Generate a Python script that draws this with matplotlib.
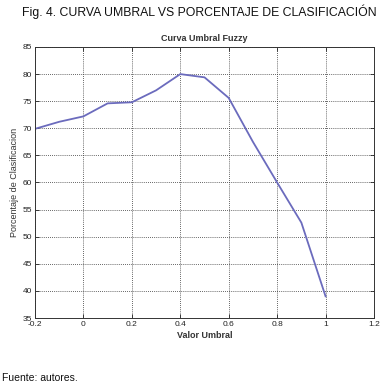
import matplotlib
matplotlib.use("Agg")
import matplotlib.pyplot as plt

plt.rcParams['font.family'] = ['Liberation Sans', 'DejaVu Sans']

umbral = [-0.2, -0.1, 0.0, 0.1, 0.2, 0.3, 0.4, 0.5, 0.6, 0.7, 0.8, 0.9, 1.0]
porcentaje = [69.9, 71.2, 72.2, 74.6, 74.8, 77.0, 80.0, 79.4, 75.6, 67.5, 60.0, 52.6, 39.0]
xticks = [-0.2, 0, 0.2, 0.4, 0.6, 0.8, 1, 1.2]
xticklabels = ['-0.2', '0', '0.2', '0.4', '0.6', '0.8', '1', '1.2']
yticks = [35, 40, 45, 50, 55, 60, 65, 70, 75, 80, 85]

fig = plt.figure(figsize=(3.81, 3.88), dpi=100)
ax = fig.add_axes([0.0919, 0.1804, 0.8897, 0.6985])
ax.plot(umbral, porcentaje, color='#6b6bbd', lw=1.3)
ax.set_xlim(-0.2, 1.2)
ax.set_ylim(35, 85)
ax.set_xticks(xticks)
ax.set_xticklabels(xticklabels)
ax.set_yticks(yticks)
ax.tick_params(direction='in', labelsize=6, length=3, width=0.6, top=True, right=True, pad=2, colors='#222222')
ax.grid(True, linestyle=(0, (1, 1.5)), color='#333333', lw=0.6)
for s in ax.spines.values():
    s.set_linewidth(0.7)
    s.set_color('#333333')
ax.set_title('Curva Umbral Fuzzy', fontsize=6.5, fontweight='bold', color='#333333', pad=4)
ax.set_xlabel('Valor Umbral', fontsize=6.5, fontweight='bold', color='#333333', labelpad=2)
ax.set_ylabel('Porcentaje de Clasificacion', fontsize=6.5, color='#333333', labelpad=3)

fig.text(0.058, 0.969, 'Fig. 4. CURVA UMBRAL VS PORCENTAJE DE CLASIFICACIÓN', fontsize=8.8,
         ha='left', va='center', color='#111111')
fig.text(0.005, 0.025, 'Fuente: autores.', fontsize=7.5, ha='left', va='center', color='#111111')

fig.savefig('out.png', dpi=100)
